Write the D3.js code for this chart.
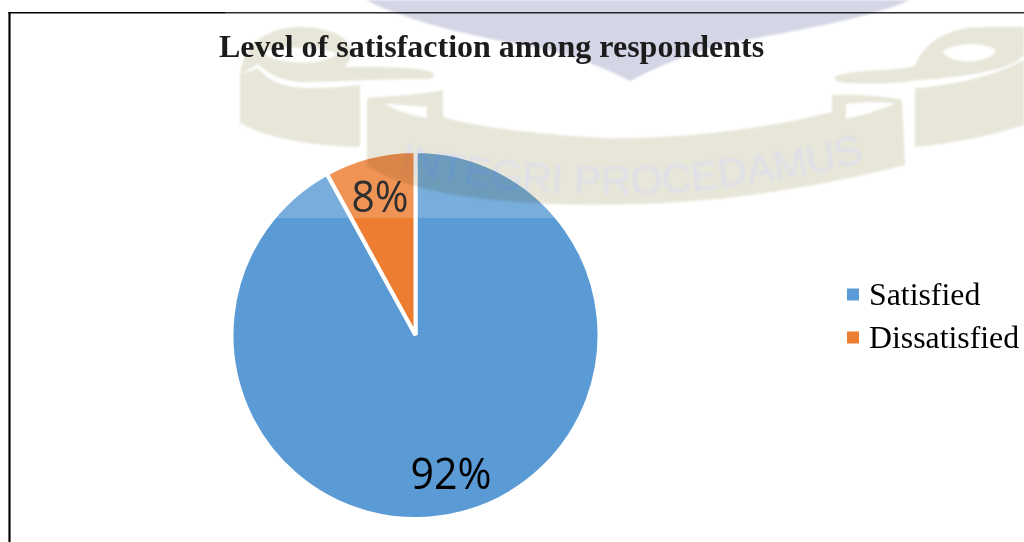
<!DOCTYPE html>
<html>
<head>
<meta charset="utf-8">
<script src="https://cdn.jsdelivr.net/npm/d3@7/dist/d3.min.js"></script>
<style>
  html, body { margin: 0; padding: 0; background: #fff; }
  svg { display: block; }
</style>
</head>
<body>
<svg id="chart" width="1024" height="542"></svg>
<script>
// Survey result
const categories = ["Satisfied", "Dissatisfied"];
const shares = [92, 8];
const sliceColors = ["#5B9BD5", "#ED7D31"];
const chartTitle = "Level of satisfaction among respondents";
const mottoText = "INTEGRI PROCEDAMUS";

const svg = d3.select("#chart");
const cx = 415.5, cy = 335, radius = 184, labelRadius = 143;

// Frame: top and left rules of the figure box
svg.append("line")
  .attr("x1", 8.4).attr("x2", 1024).attr("y1", 12.7).attr("y2", 12.7)
  .attr("stroke", "#000").attr("stroke-width", 1.4);
svg.append("line")
  .attr("x1", 9.5).attr("x2", 9.5).attr("y1", 12).attr("y2", 542)
  .attr("stroke", "#000").attr("stroke-width", 2.2);

// Pie
const pie = d3.pie().sort(null).value(d => d)(shares);
const arc = d3.arc().innerRadius(0).outerRadius(radius);
const labelArc = d3.arc().innerRadius(labelRadius).outerRadius(labelRadius);
const pieG = svg.append("g").attr("transform", `translate(${cx},${cy})`);

pieG.selectAll("path.slice")
  .data(pie)
  .join("path")
  .attr("class", "slice")
  .attr("d", arc)
  .attr("fill", (d, i) => sliceColors[i])
  .attr("stroke", "#fff")
  .attr("stroke-width", 4);

pieG.selectAll("text.value")
  .data(pie)
  .join("text")
  .attr("class", "value")
  .attr("transform", d => `translate(${labelArc.centroid(d)})`)
  .attr("text-anchor", "middle")
  .attr("dy", "0.36em")
  .attr("font-family", "'Open Sans', 'Noto Sans', sans-serif")
  .attr("font-size", 44)
  .attr("textLength", d => d.value > 50 ? 81 : 57)
  .attr("lengthAdjust", "spacingAndGlyphs")
  .attr("fill", "#000")
  .text(d => `${d.value}%`);

// Legend
const legendY = d3.scalePoint().domain(categories).range([294.5, 337.5]);
const legend = svg.selectAll("g.key")
  .data(categories)
  .join("g")
  .attr("class", "key")
  .attr("transform", d => `translate(847,${legendY(d)})`);
legend.append("rect")
  .attr("x", 0).attr("y", -6)
  .attr("width", 12).attr("height", 12)
  .attr("fill", (d, i) => sliceColors[i]);
legend.append("text")
  .attr("x", 22).attr("y", 10)
  .attr("font-family", "'Liberation Serif', serif")
  .attr("font-size", 31.8)
  .attr("fill", "#000")
  .text(d => d);

// Institutional crest printed over the page
const crest = svg.append("g");
crest.append("rect")
  .attr("x", 225).attr("y", 0).attr("width", 799).attr("height", 218)
  .attr("fill", "#fff").attr("opacity", 0.18);

const soften = crest.append("defs").append("filter")
  .attr("id", "soften")
  .attr("x", "-5%").attr("y", "-5%").attr("width", "110%").attr("height", "110%");
soften.append("feGaussianBlur").attr("stdDeviation", 1);

const tint = crest.append("g")
  .style("mix-blend-mode", "multiply")
  .attr("filter", "url(#soften)");

tint.append("path")
  .attr("fill", "#d4d5e5")
  .attr("d", "M366,0 C410,22 470,36 540,48 C575,56 605,68 630,81 C655,68 690,52 735,42 C800,30 870,18 910,0 Z");

const ribbon = tint.append("g").attr("fill", "#e7e6d9").attr("fill-rule", "evenodd");
// left curl: ring with tail, then the fold beneath it
ribbon.append("path").attr("d",
  "M240,75 C243,42 270,27 300,27 C330,27 350,38 351,50 C352,58 348,63 345,67 C380,67 420,66 433,73 C437,78 428,80 415,79 C380,79 340,82 305,82 C285,82 268,75 258,64 Z " +
  "M263,52 C272,46 325,46 337,54 C325,66 275,66 263,52 Z");
ribbon.append("path").attr("d",
  "M240,75 L258,68 C270,84 290,88 310,88 C330,88 345,87 360,85 L360,147 C320,146 270,140 240,123 Z");
// central band
ribbon.append("path").attr("d",
  "M367,98 C395,96 425,94 443,90 L443,117 C480,128 540,134 600,138 C680,140 770,128 832,112 L832,95 C860,94 885,96 902,100 L905,165 C830,184 750,198 680,202 C590,208 500,204 440,192 C410,186 385,178 367,166 Z " +
  "M384,104 C400,112 412,116 427,118 L427,107 C412,106 398,104 384,104 Z " +
  "M846,104 L846,119 C865,115 885,108 896,103 C880,102 860,102 846,104 Z");
// right curl: ring with tail, then the fold beneath it
ribbon.append("path").attr("d",
  "M836,76 C860,68 895,72 915,66 C925,40 950,27 985,27 L1024,27 L1024,55 C1015,66 990,72 960,76 C930,80 915,80 905,82 C880,84 850,84 840,82 C834,80 834,78 836,76 Z " +
  "M942,52 C955,42 985,42 996,50 C990,64 955,66 942,52 Z");
ribbon.append("path").attr("d",
  "M915,147 L915,88 C950,86 990,78 1024,60 L1024,125 C990,136 950,144 915,147 Z");

// Motto along the ribbon
crest.append("defs").append("path")
  .attr("id", "mottoCurve")
  .attr("d", "M398,170 C470,192 620,202 720,188 C780,180 830,174 900,150");
tint.append("text")
  .attr("font-family", "'Liberation Sans', sans-serif")
  .attr("font-size", 41)
  .attr("fill", "#dfdfe9")
  .append("textPath")
  .attr("href", "#mottoCurve")
  .text(mottoText);

// Title
svg.append("text")
  .attr("x", 491.5).attr("y", 57)
  .attr("text-anchor", "middle")
  .attr("font-family", "'Liberation Serif', serif")
  .attr("font-weight", "bold")
  .attr("font-size", 32)
  .attr("fill", "#1c1c1c")
  .text(chartTitle);
</script>
</body>
</html>
